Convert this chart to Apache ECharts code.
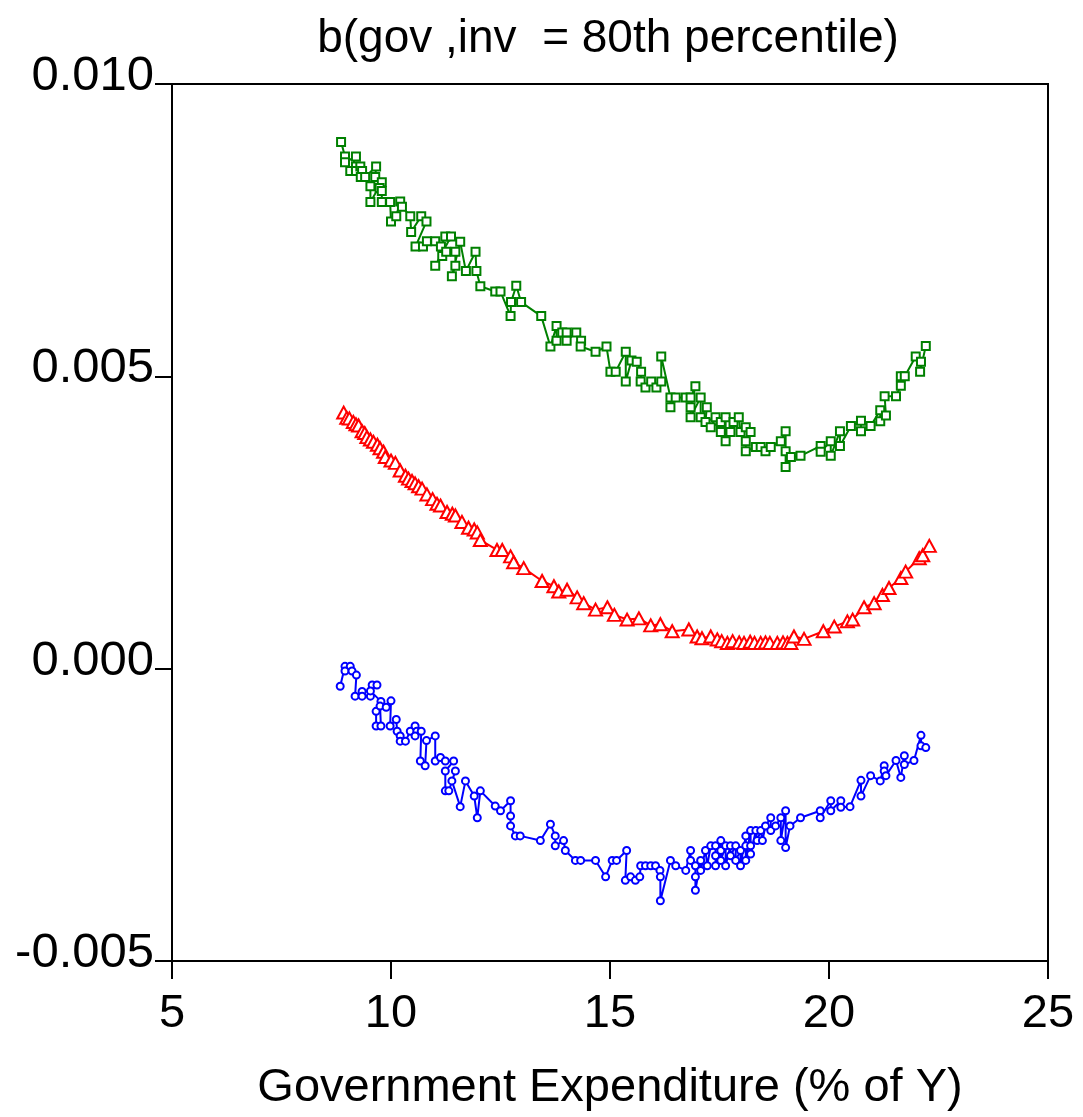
<!DOCTYPE html>
<html>
<head>
<meta charset="utf-8">
<script src="https://cdn.jsdelivr.net/npm/echarts@6/dist/echarts.min.js"></script>
<style>
html,body{margin:0;padding:0;background:#fff;}
#c{width:1083px;height:1117px;}
</style>
</head>
<body>
<div id="c"></div>
<script>
var titleText = "b(gov ,inv  = 80th percentile)";
var xName = "Government Expenditure (% of Y)";
var xTicks = [5, 10, 15, 20, 25];
var yTicks = [-0.005, 0.000, 0.005, 0.010];

var greenX = [8.86,8.95,8.95,9.20,9.07,9.20,9.20,9.30,9.34,9.31,9.41,9.66,9.64,9.53,9.53,9.79,9.74,9.79,9.79,9.98,10.00,10.12,10.21,10.25,10.44,10.46,10.69,10.81,10.56,10.73,10.82,11.01,11.14,11.24,11.37,11.01,11.17,11.26,11.47,11.47,11.39,11.58,11.71,11.93,11.95,12.04,12.38,12.50,12.73,12.74,12.86,12.97,13.43,13.64,13.78,13.78,13.91,14.01,14.01,14.23,14.34,14.33,14.67,14.92,15.01,15.13,15.36,15.36,15.49,15.61,15.71,15.70,15.81,15.94,16.06,16.17,16.17,16.38,16.38,16.50,16.73,16.84,16.95,16.84,16.84,17.07,17.07,17.21,17.18,17.41,17.30,17.53,17.53,17.64,17.64,17.75,17.82,17.94,17.98,18.10,18.21,18.10,18.10,18.33,18.44,18.55,18.67,18.90,19.01,19.01,19.01,19.13,19.35,19.81,19.81,20.04,20.04,20.25,20.25,20.50,20.73,20.73,20.95,21.17,21.17,21.30,21.27,21.53,21.64,21.64,21.73,21.98,22.10,22.08,22.21];
var greenY = [0.00901,0.00876,0.00866,0.00876,0.00851,0.00859,0.00851,0.00859,0.00851,0.00841,0.00841,0.00859,0.00841,0.00825,0.00798,0.00832,0.00822,0.00817,0.00798,0.00798,0.00765,0.00774,0.00799,0.00790,0.00774,0.00747,0.00774,0.00765,0.00722,0.00722,0.00731,0.00731,0.00722,0.00739,0.00739,0.00689,0.00706,0.00713,0.00713,0.00689,0.00671,0.00730,0.00680,0.00713,0.00680,0.00654,0.00645,0.00645,0.00603,0.00627,0.00655,0.00627,0.00603,0.00551,0.00586,0.00561,0.00575,0.00575,0.00561,0.00575,0.00561,0.00551,0.00542,0.00551,0.00508,0.00508,0.00542,0.00491,0.00527,0.00525,0.00508,0.00491,0.00481,0.00491,0.00481,0.00491,0.00534,0.00464,0.00447,0.00464,0.00464,0.00464,0.00483,0.00447,0.00430,0.00464,0.00430,0.00447,0.00422,0.00430,0.00413,0.00422,0.00405,0.00430,0.00389,0.00405,0.00422,0.00430,0.00405,0.00413,0.00405,0.00389,0.00372,0.00379,0.00379,0.00372,0.00379,0.00389,0.00406,0.00372,0.00345,0.00362,0.00364,0.00381,0.00371,0.00389,0.00364,0.00406,0.00381,0.00415,0.00424,0.00406,0.00415,0.00442,0.00423,0.00433,0.00466,0.00466,0.00484,0.00500,0.00500,0.00534,0.00525,0.00508,0.00552];

var redX = [8.92,8.99,9.05,9.14,9.20,9.26,9.34,9.40,9.45,9.53,9.60,9.69,9.75,9.83,9.87,10.00,10.10,10.21,10.33,10.40,10.48,10.55,10.63,10.71,10.82,10.95,11.05,11.13,11.28,11.40,11.47,11.62,11.77,11.90,11.97,12.04,12.42,12.54,12.73,12.80,13.03,13.45,13.72,13.83,14.02,14.25,14.40,14.67,14.94,15.10,15.39,15.66,15.93,16.15,16.42,16.80,16.99,17.10,17.30,17.45,17.55,17.68,17.80,17.95,18.06,18.20,18.30,18.44,18.55,18.65,18.82,18.95,19.05,19.13,19.20,19.43,19.87,20.12,20.42,20.54,20.80,21.03,21.22,21.37,21.64,21.75,22.06,22.14,22.29];
var redY = [0.00438,0.00429,0.00428,0.00422,0.00418,0.00416,0.00406,0.00403,0.00396,0.00392,0.00388,0.00383,0.00377,0.00371,0.00362,0.00356,0.00352,0.00339,0.00330,0.00325,0.00321,0.00317,0.00312,0.00308,0.00298,0.00290,0.00282,0.00279,0.00268,0.00265,0.00262,0.00251,0.00241,0.00238,0.00233,0.00220,0.00203,0.00203,0.00192,0.00182,0.00172,0.00150,0.00141,0.00132,0.00135,0.00122,0.00112,0.00101,0.00105,0.00092,0.00084,0.00086,0.00074,0.00076,0.00064,0.00067,0.00055,0.00052,0.00055,0.00050,0.00047,0.00044,0.00047,0.00045,0.00044,0.00046,0.00044,0.00044,0.00045,0.00044,0.00044,0.00045,0.00044,0.00044,0.00055,0.00051,0.00064,0.00072,0.00081,0.00084,0.00105,0.00112,0.00126,0.00138,0.00155,0.00166,0.00189,0.00194,0.00210];

var blueX = [8.84,8.95,9.07,8.95,9.11,9.21,9.18,9.34,9.34,9.53,9.57,9.68,9.53,9.77,9.66,9.66,9.77,9.75,9.89,10.00,9.98,10.12,10.14,10.21,10.21,10.33,10.44,10.55,10.59,10.55,10.69,10.67,10.78,10.81,11.01,11.01,11.13,11.24,11.43,11.24,11.24,11.32,11.47,11.39,11.58,11.70,11.90,11.97,12.04,12.38,12.50,12.73,12.73,12.73,12.84,12.95,13.41,13.64,13.75,13.75,13.94,13.98,14.21,14.33,14.67,14.90,15.05,15.15,15.38,15.35,15.47,15.58,15.68,15.70,15.81,15.93,16.04,16.14,16.15,16.15,16.38,16.50,16.73,16.84,16.84,16.95,16.95,16.95,17.07,17.07,17.18,17.22,17.30,17.41,17.41,17.41,17.53,17.53,17.53,17.64,17.64,17.75,17.75,17.87,17.87,17.98,17.98,18.10,18.10,18.10,18.21,18.21,18.21,18.33,18.36,18.44,18.48,18.55,18.67,18.67,18.78,18.90,18.90,19.01,19.01,19.11,19.35,19.80,19.80,20.04,20.04,20.27,20.27,20.48,20.73,20.73,20.95,21.17,21.26,21.26,21.30,21.53,21.64,21.72,21.72,21.94,22.10,22.10,22.21];
var blueY = [-0.00030,0.00004,0.00004,-0.00004,-0.00004,-0.00011,-0.00047,-0.00039,-0.00047,-0.00047,-0.00028,-0.00028,-0.00038,-0.00056,-0.00073,-0.00098,-0.00098,-0.00064,-0.00066,-0.00055,-0.00098,-0.00087,-0.00107,-0.00115,-0.00124,-0.00124,-0.00107,-0.00098,-0.00107,-0.00115,-0.00107,-0.00158,-0.00166,-0.00123,-0.00115,-0.00158,-0.00152,-0.00158,-0.00158,-0.00175,-0.00209,-0.00209,-0.00175,-0.00192,-0.00236,-0.00192,-0.00218,-0.00255,-0.00209,-0.00235,-0.00243,-0.00226,-0.00252,-0.00269,-0.00286,-0.00286,-0.00294,-0.00266,-0.00286,-0.00303,-0.00294,-0.00311,-0.00328,-0.00328,-0.00328,-0.00356,-0.00328,-0.00328,-0.00311,-0.00362,-0.00356,-0.00362,-0.00356,-0.00337,-0.00337,-0.00337,-0.00337,-0.00345,-0.00356,-0.00397,-0.00328,-0.00337,-0.00345,-0.00311,-0.00328,-0.00337,-0.00356,-0.00379,-0.00328,-0.00345,-0.00311,-0.00337,-0.00303,-0.00303,-0.00320,-0.00337,-0.00294,-0.00311,-0.00328,-0.00303,-0.00337,-0.00303,-0.00320,-0.00303,-0.00328,-0.00311,-0.00337,-0.00286,-0.00303,-0.00328,-0.00277,-0.00303,-0.00317,-0.00277,-0.00294,-0.00277,-0.00294,-0.00269,-0.00255,-0.00277,-0.00269,-0.00255,-0.00294,-0.00243,-0.00306,-0.00269,-0.00255,-0.00243,-0.00255,-0.00226,-0.00243,-0.00226,-0.00237,-0.00236,-0.00191,-0.00218,-0.00183,-0.00192,-0.00166,-0.00175,-0.00183,-0.00157,-0.00186,-0.00149,-0.00164,-0.00157,-0.00114,-0.00132,-0.00135];

function pairs(xs, ys) {
  var out = [];
  for (var i = 0; i < xs.length; i++) out.push([xs[i], ys[i]]);
  return out;
}

var chart = echarts.init(document.getElementById('c'), null, {renderer: 'canvas'});
var fontFam = "'Liberation Sans', Arial, sans-serif";
chart.setOption({
  animation: false,
  backgroundColor: '#ffffff',
  title: {
    text: titleText,
    left: 603,
    top: 11,
    textAlign: 'center',
    textStyle: {fontFamily: fontFam, fontSize: 46, fontWeight: 'normal', color: '#000'}
  },
  grid: {
    left: 172, top: 84, right: 35, bottom: 153,
    show: true, borderColor: '#000', borderWidth: 2, backgroundColor: 'transparent'
  },
  xAxis: {
    type: 'value', min: xTicks[0], max: xTicks[xTicks.length - 1], interval: 5,
    name: xName, nameLocation: 'middle', nameGap: 104,
    nameTextStyle: {fontFamily: fontFam, fontSize: 47, color: '#000'},
    axisLine: {show: true, onZero: false, lineStyle: {color: '#000', width: 2}},
    axisTick: {show: true, inside: false, length: 18, lineStyle: {color: '#000', width: 2}},
    axisLabel: {margin: 30, fontFamily: fontFam, fontSize: 47, color: '#000'},
    splitLine: {show: false}
  },
  yAxis: {
    type: 'value', min: yTicks[0], max: yTicks[yTicks.length - 1], interval: 0.005,
    axisLine: {show: true, onZero: false, lineStyle: {color: '#000', width: 2}},
    axisTick: {show: true, inside: false, length: 17, lineStyle: {color: '#000', width: 2}},
    axisLabel: {
      margin: 18, fontFamily: fontFam, fontSize: 49, color: '#000',
      verticalAlign: 'bottom', lineHeight: 15,
      formatter: function (v) { return v.toFixed(3); }
    },
    splitLine: {show: false}
  },
  series: [
    {
      type: 'line', data: pairs(greenX, greenY),
      symbol: 'emptyRect', symbolSize: 8, showAllSymbol: true,
      lineStyle: {color: '#008000', width: 2},
      itemStyle: {color: '#008000', borderWidth: 2}
    },
    {
      type: 'line', data: pairs(redX, redY),
      symbol: 'emptyTriangle', symbolSize: [13, 12], showAllSymbol: true,
      lineStyle: {color: '#ff0000', width: 2},
      itemStyle: {color: '#ff0000', borderWidth: 2}
    },
    {
      type: 'line', data: pairs(blueX, blueY),
      symbol: 'emptyCircle', symbolSize: 7, showAllSymbol: true,
      lineStyle: {color: '#0000ff', width: 2},
      itemStyle: {color: '#0000ff', borderWidth: 2}
    }
  ]
});
</script>
</body>
</html>
